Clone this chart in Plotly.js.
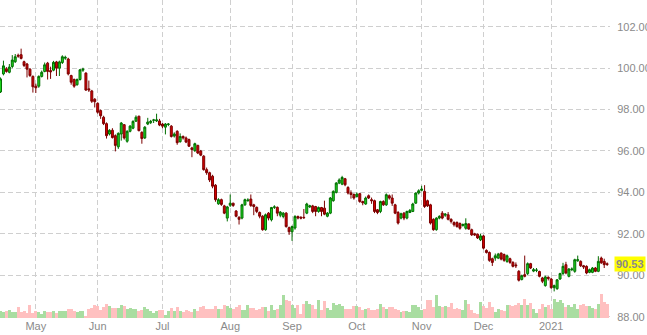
<!DOCTYPE html>
<html>
<head>
<meta charset="utf-8">
<script src="https://cdn.plot.ly/plotly-3.0.1.min.js"></script>
<style>html,body{margin:0;padding:0;background:#fff;}#chart{width:647px;height:335px;}</style>
</head>
<body>
<div id="chart"></div>
<script>
// Daily candles, trading days mid-Apr 2020 .. late Jan 2021 (index = trading day)
const openP = [
98.85,99.72,99.97,99.80,100.08,100.31,100.62,100.65,100.31,100.20,
99.95,99.60,99.13,99.13,99.60,99.84,100.24,99.88,99.90,100.30,
100.00,100.27,100.48,100.44,99.64,99.45,99.20,99.45,99.90,99.76,
99.00,98.90,98.50,98.30,97.95,97.63,97.32,96.82,97.00,96.74,
96.20,96.82,97.27,96.47,96.95,97.10,97.44,97.68,96.90,96.63,
97.30,97.37,97.48,97.45,97.45,97.30,97.15,97.28,97.20,96.72,
96.95,96.45,96.70,96.63,96.55,96.15,96.02,96.27,96.00,95.75,
95.10,94.95,94.78,94.35,93.45,93.65,93.35,92.76,93.38,93.48,
93.10,92.80,92.76,93.40,93.60,93.68,93.40,93.28,93.03,92.85,
92.20,93.00,92.68,93.28,93.28,92.90,92.84,93.00,92.30,92.10,
92.28,92.84,92.80,92.80,93.00,93.30,93.35,93.32,93.08,93.27,
93.24,92.85,93.00,93.60,94.00,94.45,94.40,94.66,94.24,93.98,
93.90,93.80,93.94,93.56,93.44,93.84,93.65,93.60,93.16,93.08,
93.56,93.40,93.84,93.73,93.40,93.03,92.76,93.00,92.76,93.03,
93.08,93.48,93.97,94.10,94.05,93.60,93.40,92.70,92.20,92.76,
93.00,92.90,92.92,92.70,92.55,92.55,92.50,92.40,92.27,92.48,
92.20,92.00,91.98,91.71,91.90,91.20,91.10,90.80,90.83,90.83,
91.07,91.00,90.67,90.80,90.62,90.50,90.19,89.80,90.03,90.08,
90.56,90.20,90.24,90.18,89.87,89.50,89.90,89.82,89.40,89.35,
89.82,90.08,90.51,89.95,90.27,90.19,90.70,90.67,90.46,90.43,
90.14,90.14,90.35,90.19,90.83,90.67,90.55];
const highP = [
99.55,100.36,100.05,100.20,100.63,100.68,100.70,100.94,100.36,100.25,
100.00,99.65,99.25,99.65,99.88,100.27,100.30,100.07,100.35,100.35,
100.36,100.62,100.60,100.50,99.68,99.50,99.50,99.95,100.02,99.80,
99.40,98.95,98.55,98.35,98.00,97.70,97.38,97.05,97.10,96.80,
96.90,97.40,97.30,97.00,97.25,97.48,97.72,97.70,96.95,97.20,
97.60,97.50,97.55,97.80,97.55,97.35,97.35,97.35,97.25,96.90,
97.00,96.85,96.75,96.70,96.60,96.20,96.40,96.30,96.05,95.80,
95.20,95.00,94.85,94.40,93.72,93.70,93.40,93.35,93.90,93.50,
93.15,92.85,93.45,93.70,93.72,93.90,93.45,93.32,93.08,92.90,
92.98,93.05,93.30,93.38,93.32,93.10,93.05,93.05,92.35,92.40,
92.90,92.88,92.85,93.20,93.50,93.40,93.40,93.35,93.32,93.30,
93.60,93.05,93.78,94.10,94.50,94.68,94.80,94.70,94.30,94.10,
93.95,94.00,93.98,93.60,93.80,93.90,93.75,93.65,93.20,93.60,
93.62,93.95,93.90,93.90,93.45,93.10,93.02,93.05,93.12,93.20,
93.50,94.00,94.15,94.32,94.35,93.65,93.45,92.75,92.80,92.90,
93.10,93.00,93.05,92.75,92.60,92.60,92.55,92.50,92.75,92.50,
92.25,92.05,92.02,92.00,91.95,91.25,91.15,90.85,91.05,91.08,
91.10,91.05,91.00,90.85,90.68,90.62,90.25,90.03,90.95,90.62,
90.60,90.35,90.35,90.22,89.92,89.98,89.95,89.88,89.55,89.82,
90.12,90.60,90.65,90.35,90.38,90.80,90.95,90.72,90.50,90.48,
90.32,90.40,90.40,90.92,90.90,90.80,90.62];
const lowP = [
98.80,99.65,99.78,99.75,100.00,100.25,100.50,100.42,100.05,99.55,
99.58,98.82,98.80,99.05,99.55,99.80,99.45,99.48,99.85,99.62,
99.62,100.20,100.40,99.65,99.20,99.05,99.15,99.40,99.82,98.90,
98.85,98.32,98.10,97.80,97.55,97.25,96.60,96.75,96.60,95.98,
96.10,96.50,96.55,96.40,96.90,97.05,97.40,96.95,96.35,96.58,
97.25,97.30,97.35,97.40,97.20,97.10,96.80,97.20,96.65,96.65,
96.30,96.40,96.55,96.38,96.20,95.70,95.95,95.85,95.75,95.05,
94.85,94.50,94.20,93.55,93.40,93.35,92.95,92.60,93.30,93.30,
92.80,92.45,92.70,93.35,93.55,93.30,92.90,93.00,92.75,92.15,
92.15,92.65,92.60,93.20,92.85,92.80,92.75,92.30,91.95,91.66,
92.20,92.70,92.70,92.72,92.95,93.25,93.00,92.85,93.02,92.85,
92.90,92.80,92.95,93.55,93.95,94.40,94.35,94.30,93.90,93.70,
93.65,93.75,93.50,93.38,93.40,93.68,93.45,93.00,92.95,93.00,
93.35,93.35,93.65,93.35,92.95,92.45,92.70,92.66,92.70,93.00,
93.05,93.45,93.90,94.05,93.25,93.30,92.45,92.15,92.15,92.70,
92.70,92.82,92.65,92.50,92.35,92.30,92.20,92.35,92.20,92.20,
91.90,91.90,91.75,91.65,91.25,91.05,90.65,90.45,90.70,90.78,
90.72,90.65,90.60,90.55,90.38,90.35,89.70,89.75,89.90,90.00,
90.30,90.15,90.15,89.90,89.62,89.45,89.75,89.35,89.22,89.30,
89.78,90.02,90.05,89.90,90.20,90.12,90.65,90.40,90.30,90.05,
90.10,90.10,90.15,90.15,90.55,90.35,90.45];
const closeP = [
99.48,100.11,99.84,100.05,100.39,100.55,100.58,100.47,100.13,99.95,
99.64,99.10,99.05,99.60,99.80,100.16,99.84,99.82,100.28,100.00,
100.30,100.55,100.52,99.72,99.32,99.13,99.45,99.92,99.95,98.94,
98.95,98.40,98.38,97.87,97.70,97.32,96.74,97.00,96.65,96.27,
96.85,97.35,96.63,96.95,97.20,97.43,97.63,96.98,96.60,97.15,
97.40,97.43,97.50,97.50,97.25,97.20,97.30,97.30,96.70,96.82,
96.40,96.70,96.63,96.43,96.23,96.07,96.35,95.90,95.80,95.10,
94.95,94.60,94.30,93.65,93.65,93.42,93.00,93.30,93.48,93.37,
92.85,92.70,93.40,93.65,93.63,93.37,93.32,93.08,92.85,92.20,
92.92,92.76,93.27,93.30,93.00,93.05,93.00,92.35,92.10,92.35,
92.84,92.76,92.76,92.78,93.44,93.35,93.08,93.08,93.27,93.08,
92.95,93.00,93.73,94.05,94.45,94.60,94.72,94.37,93.97,93.90,
93.73,93.92,93.56,93.50,93.73,93.73,93.60,93.08,93.03,93.56,
93.40,93.89,93.73,93.48,93.00,92.52,92.97,92.76,93.08,93.13,
93.44,93.97,94.08,94.16,93.32,93.35,92.52,92.20,92.76,92.84,
92.76,92.95,92.70,92.60,92.44,92.35,92.27,92.45,92.50,92.23,
91.95,91.95,91.80,91.90,91.31,91.10,90.72,90.62,90.94,91.02,
90.78,90.72,90.94,90.62,90.43,90.46,89.76,89.98,89.95,90.56,
90.35,90.27,90.25,89.95,89.71,89.92,89.85,89.40,89.50,89.78,
90.08,90.43,90.11,90.30,90.30,90.75,90.75,90.46,90.40,90.11,
90.27,90.35,90.19,90.67,90.60,90.51,90.53];
const volume = [
7,6,6.7,7.7,6,6.5,11,6,6.7,5.3,
12.7,5.3,6.7,6,3.7,6.7,6,6,6.7,5.3,
6.7,6.7,6.7,8.7,8.7,7,6,7,7,1.7,
8.7,9.7,13.3,11.7,7.7,11,14.3,11.7,10,10,
10,13.3,11.7,8.7,10.3,9.3,8.7,6.7,8.3,11,
8.7,6.7,5.3,7,8.3,8.3,3.3,6.7,10,6.7,
11,6.7,6,8.3,6.7,6,9.3,6.7,11,12,
8.7,8.7,8.7,12,8.7,9.3,13.3,12,10,8.7,
11,12.7,7.7,7.7,12.7,10,10,7.7,8.7,11,
11,7,12.7,7.7,9.3,12.7,22.7,18.3,16.7,13.3,
10,12.7,4.3,14.3,16.7,14.3,13.3,8.7,17.7,7.7,
16.7,10,
7.7,15.3,13.3,13.7,11.7,9.3,9.3,9.3,11.7,11.7,
11,8.3,9.3,10.3,8.3,8.3,9.3,13.7,11,8.7,
11,11,9.3,7.7,6,6.7,6.7,6,12.7,12.7,
11,7.7,8.7,17.7,17.7,11,23.3,12,11,11.7,
11,15,9.3,10,9.3,7.7,17.7,14.3,7.7,5.3,
4.3,16,12,10,16,11,6,9.3,7.7,7,
12.7,13.3,11.7,12.7,15,13.3,19.3,12.7,15,9.3,
5,8.7,14.3,11,12.7,9.3,19.3,16,18.3,15,
11,12.7,11,13.7,8.7,12.7,14.3,12,12,10,
9.3,13.7,23.7,16,14.3];
const monthTickIndex = [12, 33, 55, 78, 99, 121, 143, 164, 187];
const monthLabels = ['May','Jun','Jul','Aug','Sep','Oct','Nov','Dec','2021'];
const priceTicks = [88, 90, 92, 94, 96, 98, 100, 102];
const lastPrice = 90.53;

const idx = closeP.map((_, i) => i);
const volColors = closeP.map((c, i) => c >= openP[i] ? '#a9dda1' : '#ffc0c0');
const axisFont = {family: 'Liberation Sans, Arial, sans-serif', size: 11, color: '#8a8a8a'};

const traces = [
  {
    type: 'bar', x: idx, y: volume, yaxis: 'y2',
    marker: {color: volColors, line: {width: 0}},
    width: 1, hoverinfo: 'skip'
  },
  {
    type: 'candlestick', x: idx, open: openP, high: highP, low: lowP, close: closeP,
    increasing: {line: {color: '#006e00', width: 1}, fillcolor: '#1ed81e'},
    decreasing: {line: {color: '#7c0000', width: 1}, fillcolor: '#d40000'},
    whiskerwidth: 0, hoverinfo: 'skip'
  }
];

const layout = {
  width: 647, height: 335,
  margin: {l: 0, r: 37, t: 0, b: 17, pad: 0},
  paper_bgcolor: '#ffffff', plot_bgcolor: '#ffffff',
  showlegend: false, bargap: 0, boxgap: 0.05,
  xaxis: {
    range: [-0.17, 206.96], tickmode: 'array', tickvals: monthTickIndex, ticktext: monthLabels,
    showgrid: true, gridcolor: '#cfcfcf', griddash: '5px,3px', gridwidth: 1,
    zeroline: false, showline: false, ticks: '',
    tickfont: axisFont, rangeslider: {visible: false}, fixedrange: true
  },
  yaxis: {
    side: 'right', range: [87.937, 103.289], tickmode: 'array', tickvals: priceTicks,
    tickformat: '.2f', showgrid: true, gridcolor: '#cfcfcf', griddash: '5px,3px', gridwidth: 1,
    zeroline: false, showline: false, ticks: 'outside', ticklen: 4, tickcolor: 'rgba(0,0,0,0)',
    tickfont: axisFont, fixedrange: true
  },
  yaxis2: {overlaying: 'y', range: [0, 318], visible: false, fixedrange: true},
  annotations: [{
    xref: 'paper', x: 1, xanchor: 'left', xshift: 4,
    yref: 'y', y: lastPrice, yanchor: 'middle',
    text: '<b>' + lastPrice.toFixed(2) + '</b>', showarrow: false,
    bgcolor: '#ffff00', borderpad: 1,
    font: {family: 'Liberation Sans, Arial, sans-serif', size: 11, color: '#8a8a8a'}
  }]
};

Plotly.newPlot('chart', traces, layout, {displayModeBar: false, staticPlot: true});
</script>
</body>
</html>
